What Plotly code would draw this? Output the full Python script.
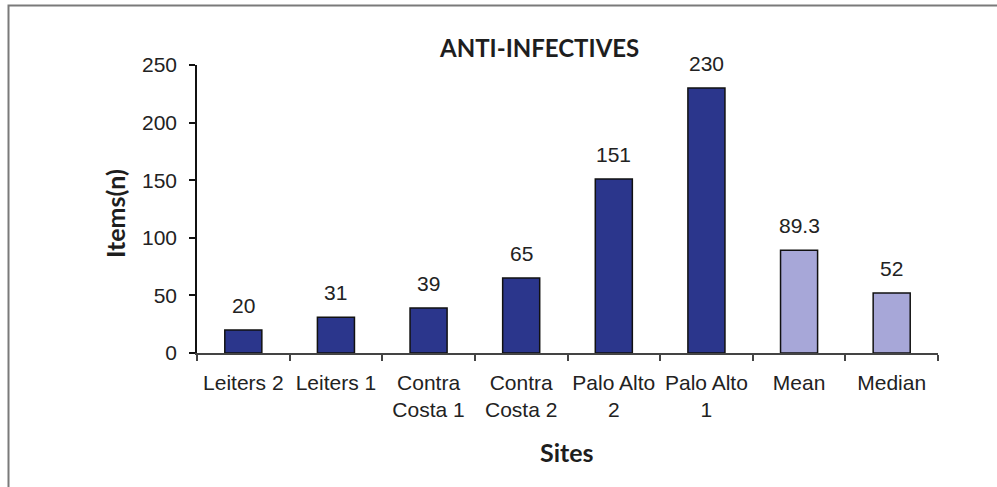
import plotly.graph_objects as go

categories = ["Leiters 2", "Leiters 1", "Contra<br>Costa 1", "Contra<br>Costa 2",
              "Palo Alto<br>2", "Palo Alto<br>1", "Mean", "Median"]
values = [20, 31, 39, 65, 151, 230, 89.3, 52]
labels = ["20", "31", "39", "65", "151", "230", "89.3", "52"]
bar_colors = ["#2b368c"] * 6 + ["#a7a7d8"] * 2
y_ticks = [0, 50, 100, 150, 200, 250]

tick_font = dict(family="Liberation Sans, Arial, sans-serif", size=21, color="#222222")
title_font = dict(family="Lato, sans-serif", size=24, color="#1e1e1e")
axis_title_font = dict(family="Lato, sans-serif", size=25, color="#1e1e1e")

fig = go.Figure()
fig.add_trace(go.Bar(
    x=categories, y=values,
    marker=dict(color=bar_colors, line=dict(color="#111111", width=1.5)),
    hoverinfo="skip",
))

for c, v, t in zip(categories, values, labels):
    fig.add_annotation(x=c, y=v, text=t, showarrow=False, yanchor="bottom",
                       yshift=11, font=tick_font)

W, H = 997, 487
L, R, T, B = 197, 938, 65, 353
pw, ph = R - L, B - T

def px_x(x):
    return (x - L) / pw

def px_y(y):
    return (B - y) / ph

# title and axis titles
fig.add_annotation(x=px_x(539), y=px_y(47), xref="paper", yref="paper", text="<b>ANTI-INFECTIVES</b>",
                   showarrow=False, font=title_font, xanchor="center", yanchor="middle")
fig.add_annotation(x=px_x(567), y=px_y(452), xref="paper", yref="paper", text="<b>Sites</b>",
                   showarrow=False, font=axis_title_font, xanchor="center", yanchor="middle")
fig.add_annotation(x=px_x(115), y=px_y(214), xref="paper", yref="paper", text="<b>Items(n)</b>",
                   showarrow=False, font=axis_title_font, xanchor="center", yanchor="middle", textangle=-90)

# frame lines (left and top)
fig.add_shape(type="path", xref="paper", yref="paper",
              path=f"M {px_x(8.5)} {px_y(500)} L {px_x(8.5)} {px_y(5.5)} L {px_x(1000)} {px_y(5.5)}",
              line=dict(color="#7a7a7a", width=2))

fig.update_layout(
    width=W, height=H,
    margin=dict(l=L, r=W - R, t=T, b=H - B),
    paper_bgcolor="white", plot_bgcolor="white",
    bargap=0.6, showlegend=False,
)
fig.update_xaxes(
    showline=True, linecolor="#444444", linewidth=1.5,
    ticks="outside", tickson="boundaries", ticklen=6, tickcolor="#444444", tickwidth=1.5,
    tickfont=tick_font, showgrid=False, ticklabelstandoff=10,
)
fig.update_yaxes(
    range=[0, 250], tickvals=y_ticks, showline=True, linecolor="#111111", linewidth=1.5,
    ticks="outside", ticklen=6, tickcolor="#111111", tickwidth=1.5,
    tickfont=tick_font, showgrid=False, zeroline=False, ticklabelstandoff=8,
)

fig.write_html("out.html")
